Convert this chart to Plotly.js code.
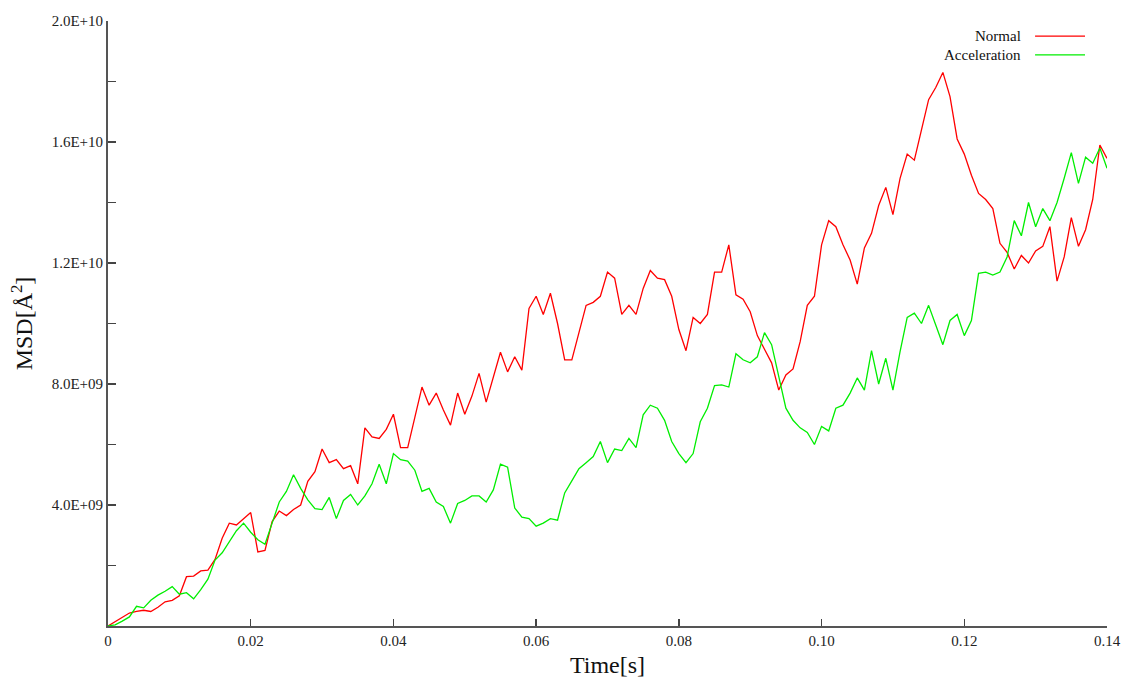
<!DOCTYPE html>
<html>
<head>
<meta charset="utf-8">
<script src="https://cdn.plot.ly/plotly-3.0.1.min.js"></script>
<style>html,body{margin:0;padding:0;background:#fff;}#chart{width:1121px;height:689px;}</style>
</head>
<body>
<div id="chart"></div>
<script>
// time step 0.001 s, values in units of 1E+09 Å²
const timeS = Array.from({length: 141}, (_, i) => +(i * 0.001).toFixed(3));
const normalMSD = [
  0.0, 0.15, 0.3, 0.43, 0.48, 0.52, 0.48, 0.62, 0.8, 0.85,
  1.0, 1.63, 1.65, 1.82, 1.85, 2.2, 2.9, 3.4, 3.34, 3.55,
  3.75, 2.45, 2.5, 3.45, 3.8, 3.65, 3.85, 4.0, 4.78, 5.1,
  5.85, 5.4, 5.5, 5.2, 5.3, 4.7, 6.55, 6.25, 6.2, 6.5,
  7.0, 5.9, 5.9, 6.9, 7.9, 7.3, 7.7, 7.14, 6.64, 7.7,
  7.0, 7.6, 8.35, 7.4, 8.2, 9.05, 8.4, 8.9, 8.46, 10.5,
  10.9, 10.3, 11.0, 10.0, 8.8, 8.8, 9.7, 10.6, 10.7, 10.9,
  11.7, 11.5, 10.3, 10.6, 10.3, 11.16, 11.75, 11.5, 11.45, 10.9,
  9.8, 9.1, 10.2, 10.0, 10.3, 11.7, 11.7, 12.6, 10.95, 10.8,
  10.39, 9.6, 9.15, 8.7, 7.8, 8.3, 8.5, 9.4, 10.6, 10.9,
  12.6, 13.4, 13.2, 12.6, 12.1, 11.3, 12.5, 12.98, 13.9, 14.5,
  13.6, 14.8, 15.6, 15.4, 16.4, 17.4, 17.8, 18.3, 17.5, 16.1,
  15.6, 14.9, 14.3, 14.1, 13.8, 12.65, 12.35, 11.8, 12.25, 12.0,
  12.4, 12.55, 13.2, 11.4, 12.2, 13.5, 12.55, 13.1, 14.1, 15.9,
  15.46
];
const accelMSD = [
  0.0, 0.04, 0.16, 0.3, 0.65, 0.6, 0.85, 1.02, 1.15, 1.3,
  1.05, 1.1, 0.9, 1.2, 1.55, 2.18, 2.42, 2.78, 3.15, 3.4,
  3.1, 2.85, 2.7, 3.4, 4.1, 4.45, 5.0, 4.55, 4.17, 3.88,
  3.85, 4.25, 3.55, 4.15, 4.35, 4.0, 4.3, 4.7, 5.35, 4.7,
  5.7, 5.5, 5.45, 5.15, 4.45, 4.55, 4.1, 3.95, 3.4, 4.05,
  4.15, 4.3, 4.3, 4.1, 4.5, 5.35, 5.25, 3.9, 3.6, 3.55,
  3.3, 3.4, 3.55, 3.5, 4.4, 4.8, 5.2, 5.4, 5.6, 6.1,
  5.4, 5.85, 5.8, 6.2, 5.9, 6.98, 7.3, 7.2, 6.8, 6.1,
  5.7, 5.4, 5.7, 6.75, 7.2, 7.95, 7.97, 7.9, 9.0, 8.8,
  8.7, 8.9, 9.7, 9.3, 8.24, 7.2, 6.8, 6.55, 6.4, 6.0,
  6.6, 6.45, 7.2, 7.3, 7.7, 8.2, 7.8, 9.1, 8.0, 8.85,
  7.8, 9.07, 10.2, 10.34, 10.0, 10.6, 9.95, 9.3, 10.1, 10.3,
  9.6, 10.1, 11.66, 11.7, 11.6, 11.7, 12.2, 13.4, 12.9, 14.0,
  13.2, 13.8, 13.4, 14.0, 14.8, 15.65, 14.63, 15.5, 15.3, 15.8,
  15.13
];
const seriesNames = ["Normal", "Acceleration"];
const seriesColors = ["#ff0000", "#00ee00"];
const xTickVals = [0, 0.02, 0.04, 0.06, 0.08, 0.10, 0.12, 0.14];
const xTickText = ["0", "0.02", "0.04", "0.06", "0.08", "0.10", "0.12", "0.14"];
const yTickVals = [0, 2, 4, 6, 8, 10, 12, 14, 16, 18, 20];
const yTickText = [" ", " ", "4.0E+09", " ", "8.0E+09", " ", "1.2E+10", " ", "1.6E+10", " ", "2.0E+10"];

const font = "Liberation Serif, Times New Roman, serif";
const traces = [normalMSD, accelMSD].map((vals, i) => ({
  x: timeS, y: vals, type: "scatter", mode: "lines", name: seriesNames[i],
  line: {color: seriesColors[i], width: 1.3}, showlegend: false
}));

const legendY = [0.975, 0.944];
const annotations = seriesNames.map((n, i) => ({
  xref: "paper", yref: "paper", x: 0.916, y: legendY[i], xanchor: "right", yanchor: "middle",
  text: n, showarrow: false, font: {family: font, size: 15, color: "#111"}
}));
const shapes = seriesNames.map((n, i) => ({
  type: "line", xref: "paper", yref: "paper", x0: 0.928, x1: 0.978, y0: legendY[i], y1: legendY[i],
  line: {color: seriesColors[i], width: 1.2}
}));

const layout = {
  width: 1121, height: 689, autosize: false,
  margin: {l: 108, r: 14, t: 21, b: 63},
  paper_bgcolor: "#fff", plot_bgcolor: "#fff",
  font: {family: font, size: 15, color: "#222"},
  xaxis: {
    range: [0, 0.14], tickvals: xTickVals, ticktext: xTickText,
    ticks: "inside", ticklen: 7, tickwidth: 1.5, tickcolor: "#444",
    showline: true, linecolor: "#555", linewidth: 2, showgrid: false, zeroline: false,
    tickfont: {family: font, size: 15, color: "#222"},
    title: {text: "Time[s]", font: {family: font, size: 24, color: "#111"}, standoff: 8}
  },
  yaxis: {
    range: [0, 20], tickvals: yTickVals, ticktext: yTickText,
    ticks: "inside", ticklen: 8, tickwidth: 1.5, tickcolor: "#444",
    showline: true, linecolor: "#555", linewidth: 2, showgrid: false, zeroline: false,
    tickfont: {family: font, size: 15, color: "#222"},
    title: {text: "MSD[Å<sup>2</sup>]", font: {family: font, size: 24, color: "#111"}, standoff: 12}
  },
  annotations: annotations, shapes: shapes
};
Plotly.newPlot("chart", traces, layout, {displayModeBar: false, staticPlot: true});
</script>
</body>
</html>
